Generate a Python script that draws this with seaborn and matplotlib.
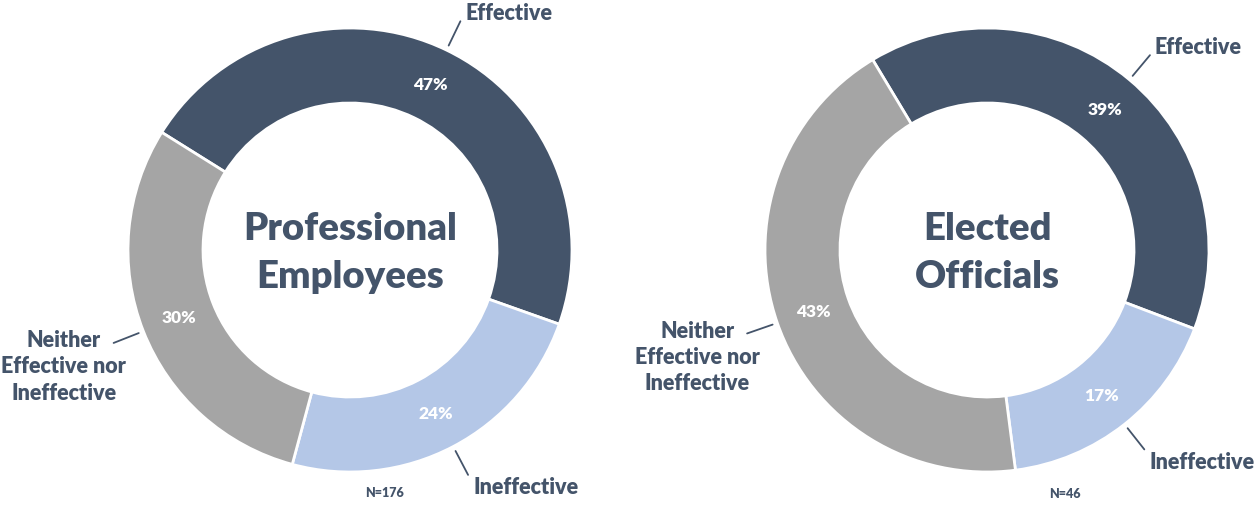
import numpy as np
import matplotlib
matplotlib.use('Agg')
import matplotlib.pyplot as plt
import seaborn as sns

# data
categories = ['Effective', 'Ineffective', 'Neither\nEffective nor\nIneffective']
prof_values = [47, 24, 30]
elected_values = [39, 17, 43]
titles = ['Professional\nEmployees', 'Elected\nOfficials']
sample_sizes = ['N=176', 'N=46']

colors = ['#44546A', '#B4C7E7', '#A5A5A5']
dark = '#44546A'

sns.set_theme(style='white')
plt.rcParams['font.family'] = ['Lato', 'DejaVu Sans']

W, H = 1256, 506
fig = plt.figure(figsize=(W / 100, H / 100), dpi=100)
ax = fig.add_axes([0, 0, 1, 1])


def donut(values, cx, cy, start, title, n_text, n_xy):
    R, ring = 222, 75
    wedges, _, pcts = ax.pie(values, colors=colors, startangle=start,
                             counterclock=False, center=(cx, cy), radius=R,
                             autopct='%.0f%%', pctdistance=0.83,
                             wedgeprops=dict(width=ring, edgecolor='white', linewidth=2),
                             textprops=dict(color='white', fontsize=12.5, fontweight='heavy'))
    for t, v in zip(pcts, values):
        t.set_text(f'{v}%')

    # leader lines + category labels
    for w, cat in zip(wedges, categories):
        ang = np.deg2rad((w.theta1 + w.theta2) / 2)
        c, s = np.cos(ang), np.sin(ang)
        x0, y0 = cx + 227 * c, cy + 227 * s
        x1, y1 = cx + 254 * c, cy + 254 * s
        ax.plot([x0, x1], [y0, y1], color=dark, lw=1.3)
        if '\n' in cat:
            ax.text(x1 - 50, y1 - 23, cat, ha='center', va='center', color=dark,
                    fontsize=15.5, fontweight='heavy', linespacing=1.3)
        else:
            dy = 9 if s > 0 else -12
            ax.text(x1 + 5, y1 + dy, cat, ha='left', va='center', color=dark,
                    fontsize=15.5, fontweight='heavy')

    ax.text(cx, cy - 2, title, ha='center', va='center', color=dark,
            fontsize=27.5, fontweight='heavy', linespacing=1.5)
    ax.text(n_xy[0], n_xy[1], n_text, ha='center', va='center', color=dark,
            fontsize=9, fontweight='heavy')


donut(prof_values, 350, H - 251, 148, titles[0], sample_sizes[0], (384, H - 493))
donut(elected_values, 987, H - 251, 121, titles[1], sample_sizes[1], (1065, H - 494))

ax.set_xlim(0, W)
ax.set_ylim(0, H)
ax.set_aspect('equal')
ax.axis('off')

fig.savefig('out.png', dpi=100, facecolor='white')
